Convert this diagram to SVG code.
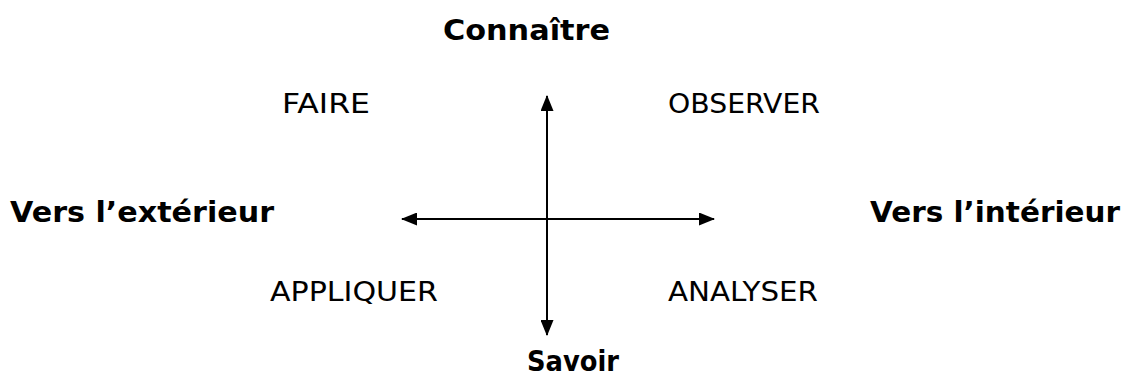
<svg xmlns="http://www.w3.org/2000/svg" width="1136" height="383" viewBox="0 0 1136 383">
<style>
.b{font-family:"DejaVu Sans","Verdana",sans-serif;font-weight:bold;font-size:29px;fill:#000}
.n{font-family:"DejaVu Sans","Verdana",sans-serif;font-size:26.5px;fill:#000}
.ax{stroke:#000;stroke-width:2;fill:none}
</style>
<defs>
<marker id="ah" viewBox="0 0 16 13" refX="15" refY="6.5" markerWidth="16" markerHeight="13" markerUnits="userSpaceOnUse" orient="auto-start-reverse">
<path d="M0,0 L16,6.5 L0,13 Z" fill="#000"/>
</marker>
</defs>
<rect width="1136" height="383" fill="#fff"/>
<g id="connectors">
<line class="ax" x1="547" y1="335" x2="547" y2="96" marker-start="url(#ah)" marker-end="url(#ah)"/>
<line class="ax" x1="402" y1="219" x2="714" y2="219" marker-start="url(#ah)" marker-end="url(#ah)"/>
</g>
<g id="connaitre"><text class="b" x="443" y="40" textLength="167" lengthAdjust="spacingAndGlyphs">Connaître</text></g>
<g id="faire"><text class="n" x="282" y="113" textLength="88" lengthAdjust="spacingAndGlyphs">FAIRE</text></g>
<g id="observer"><text class="n" x="668" y="113" textLength="152" lengthAdjust="spacingAndGlyphs">OBSERVER</text></g>
<g id="exterieur"><text class="b" x="10" y="222" textLength="264" lengthAdjust="spacingAndGlyphs">Vers l’extérieur</text></g>
<g id="interieur"><text class="b" x="870" y="222" textLength="250" lengthAdjust="spacingAndGlyphs">Vers l’intérieur</text></g>
<g id="appliquer"><text class="n" x="270" y="301" textLength="168" lengthAdjust="spacingAndGlyphs">APPLIQUER</text></g>
<g id="analyser"><text class="n" x="668" y="301" textLength="150" lengthAdjust="spacingAndGlyphs">ANALYSER</text></g>
<g id="savoir"><text class="b" x="527" y="371" textLength="92" lengthAdjust="spacingAndGlyphs">Savoir</text></g>
</svg>
